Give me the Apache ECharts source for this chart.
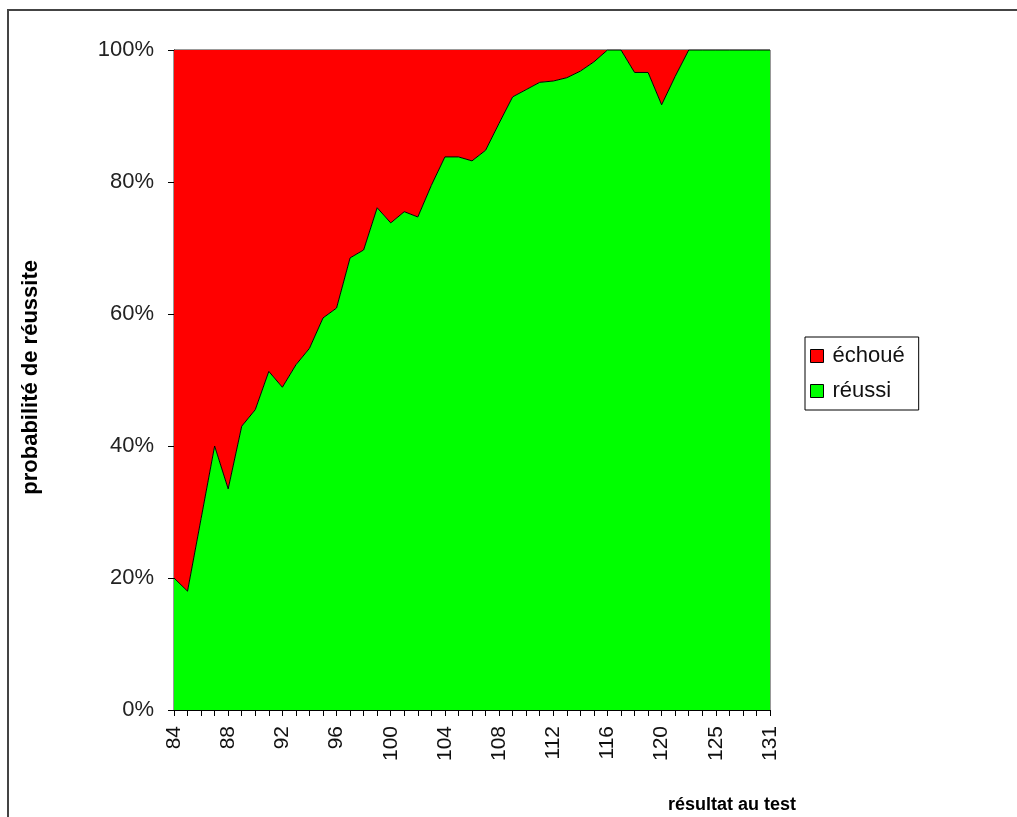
<!DOCTYPE html>
<html>
<head>
<meta charset="utf-8">
<script src="https://cdn.jsdelivr.net/npm/echarts@6/dist/echarts.min.js"></script>
<style>
html,body{margin:0;padding:0;background:#fff;}
#chart{width:1017px;height:817px;}
</style>
</head>
<body>
<div id="chart"></div>
<script>
// Categories (test score)
const categories = ['84','85','86','87','88','89','90','91','92','93','94','95','96','97','98','99','100','101','102','103','104','105','106','107','108','109','110','111','112','113','114','115','116','117','118','119','120','121','122','123','125','126','128','129','131'];
// Success share (%)
const reussi = [20, 18, 29, 40, 33.5, 43, 45.5, 51.3, 48.9, 52.3, 54.8, 59.4, 60.9, 68.5, 69.7, 76.1, 73.8, 75.5, 74.7, 79.5, 83.8, 83.8, 83.2, 84.8, 88.9, 92.9, 94.0, 95.1, 95.3, 95.8, 96.8, 98.2, 100, 100, 96.6, 96.6, 91.7, 96, 100, 100, 100, 100, 100, 100, 100];
// Failure share (%)
const echoue = [80, 82, 71, 60, 66.5, 57, 54.5, 48.7, 51.1, 47.7, 45.2, 40.6, 39.1, 31.5, 30.3, 23.9, 26.2, 24.5, 25.3, 20.5, 16.2, 16.2, 16.8, 15.2, 11.1, 7.1, 6.0, 4.9, 4.7, 4.2, 3.2, 1.8, 0, 0, 3.4, 3.4, 8.3, 4, 0, 0, 0, 0, 0, 0, 0];
// Y tick values
const yTicks = [0, 20, 40, 60, 80, 100];

const FONT = "'Liberation Sans', Arial, sans-serif";
const chart = echarts.init(document.getElementById('chart'), null, {renderer: 'canvas'});
chart.setOption({
  animation: false,
  backgroundColor: '#fff',
  textStyle: {fontFamily: FONT},
  grid: {left: 174, top: 50, width: 596, height: 660, show: true, borderColor: '#333', borderWidth: 1, backgroundColor: 'transparent'},
  legend: {
    orient: 'vertical', left: 805, top: 337,
    data: ['échoué', 'réussi'],
    icon: 'rect', itemWidth: 13, itemHeight: 13, itemGap: 13,
    itemStyle: {borderColor: '#000', borderWidth: 1},
    textStyle: {fontSize: 22, color: '#111', fontFamily: FONT, padding: [0, 0, 0, 4]},
    borderColor: '#000', borderWidth: 1, padding: [8, 14, 8, 5]
  },
  xAxis: {
    type: 'category', data: categories, boundaryGap: false,
    axisLine: {lineStyle: {color: '#000', width: 1}},
    axisTick: {show: true, interval: 0, length: 6, lineStyle: {color: '#000'}},
    axisLabel: {interval: 3, rotate: 90, margin: 16, fontSize: 21, color: '#111', fontFamily: FONT},
    splitLine: {show: false}
  },
  yAxis: {
    type: 'value', min: yTicks[0], max: yTicks[yTicks.length - 1], interval: 20,
    axisLine: {show: true, lineStyle: {color: '#000', width: 1}},
    axisTick: {show: true, length: 6, lineStyle: {color: '#000'}},
    axisLabel: {formatter: '{value}%', margin: 20, fontSize: 22, color: '#222', fontFamily: FONT},
    splitLine: {show: false}
  },
  series: [
    {
      name: 'réussi', type: 'line', stack: 'total', data: reussi, z: 3,
      symbol: 'none', showSymbol: false,
      itemStyle: {color: '#00FF00'},
      lineStyle: {color: '#000', width: 1},
      areaStyle: {color: '#00FF00', opacity: 1}
    },
    {
      name: 'échoué', type: 'line', stack: 'total', data: echoue, z: 2,
      symbol: 'none', showSymbol: false,
      itemStyle: {color: '#FF0000'},
      lineStyle: {width: 0},
      areaStyle: {color: '#FF0000', opacity: 1}
    }
  ],
  graphic: [
    {type: 'rect', shape: {x: 8, y: 10, width: 1100, height: 900}, style: {fill: 'none', stroke: '#444', lineWidth: 2}, silent: true},
    {type: 'text', left: 523, top: 454, style: {text: 'réussi', fill: '#111', font: '18px ' + FONT}},
    {type: 'text', left: 668, top: 796, style: {text: 'résultat au test', font: 'bold 18px ' + FONT, fill: '#000'}},
    {type: 'text', left: 20, top: 260, rotation: Math.PI / 2, style: {text: 'probabilité de réussite', font: 'bold 22px ' + FONT, fill: '#000'}}
  ]
});
</script>
</body>
</html>
